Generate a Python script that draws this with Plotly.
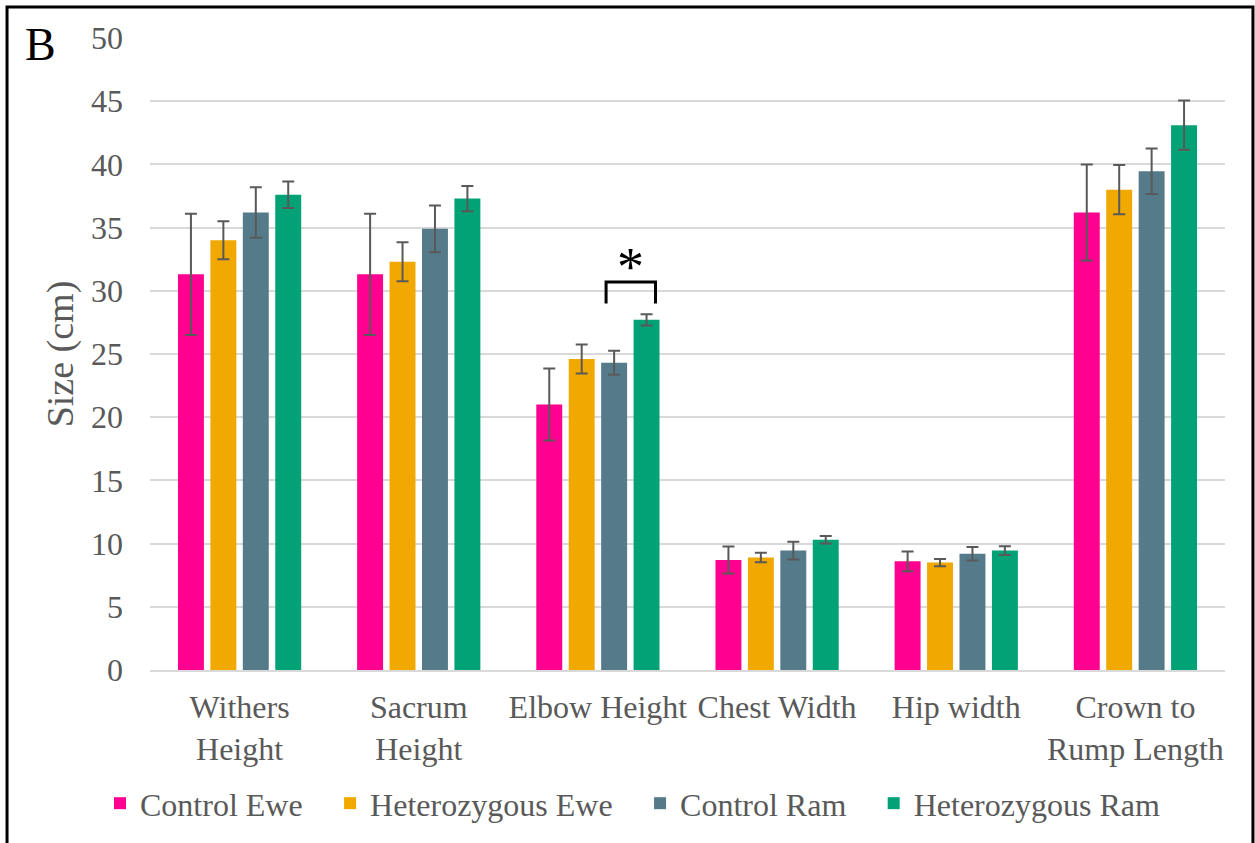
import plotly.graph_objects as go

# Body measurements (cm), mean and error per group
categories = ["Withers<br>Height", "Sacrum<br>Height", "Elbow Height",
              "Chest Width", "Hip width", "Crown to<br>Rump Length"]

control_ewe = [31.3, 31.3, 21.0, 8.7, 8.6, 36.2]
control_ewe_err = [4.8, 4.8, 2.85, 1.07, 0.78, 3.8]

het_ewe = [34.0, 32.3, 24.6, 8.9, 8.5, 38.0]
het_ewe_err = [1.5, 1.55, 1.15, 0.38, 0.29, 1.95]

control_ram = [36.2, 34.9, 24.3, 9.45, 9.2, 39.45]
control_ram_err = [2.0, 1.85, 0.95, 0.7, 0.54, 1.8]

het_ram = [37.6, 37.3, 27.7, 10.3, 9.45, 43.1]
het_ram_err = [1.05, 1.0, 0.45, 0.3, 0.35, 1.95]

# legend labels; non-breaking spaces widen the gap between entries
PAD = "\u00a0\u00a0\u2009"
series = [
    ("Control Ewe" + PAD, control_ewe, control_ewe_err, "#FF0090"),
    ("Heterozygous Ewe" + PAD, het_ewe, het_ewe_err, "#F1A800"),
    ("Control Ram" + PAD, control_ram, control_ram_err, "#557B8A"),
    ("Heterozygous Ram", het_ram, het_ram_err, "#00A276"),
]

FONT = "Liberation Serif"
GRAY = "#595959"

fig = go.Figure()
for name, vals, errs, color in series:
    fig.add_trace(go.Bar(
        name=name, x=categories, y=vals,
        marker=dict(color=color, line=dict(width=0)),
        error_y=dict(type="data", array=errs, color=GRAY,
                     thickness=2, width=6),
    ))

# Significance bracket between Control Ram and Heterozygous Ram (Elbow Height)
group_span = 1 - 0.276
slot = group_span / 4
bx0 = 2 + 0.5 * slot - 0.045
bx1 = 2 + 1.5 * slot + 0.05
shapes = [
    dict(type="path", xref="x", yref="y",
         path=f"M {bx0},29.0 L {bx0},30.7 L {bx1},30.7 L {bx1},29.0",
         line=dict(color="black", width=3)),
    # outer frame
    dict(type="rect", xref="paper", yref="paper",
         x0=-0.1330, x1=1.0260, y0=-0.30, y1=1.0491,
         line=dict(color="black", width=3)),
]

annotations = [
    dict(x=(bx0 + bx1) / 2, y=29.35, xref="x", yref="y", text="*",
         showarrow=False, yanchor="bottom",
         font=dict(family=FONT, size=54, color="black")),
    dict(x=-0.1014, y=0.989, xref="paper", yref="paper", text="B",
         showarrow=False, xanchor="center", yanchor="middle",
         font=dict(family=FONT, size=46, color="black")),
]

fig.update_layout(
    width=1255, height=843,
    margin=dict(l=150, r=30, t=38, b=173),
    paper_bgcolor="white", plot_bgcolor="white",
    barmode="group", bargap=0.276, bargroupgap=0.2,
    font=dict(family=FONT, size=32, color=GRAY),
    shapes=shapes, annotations=annotations,
    legend=dict(orientation="h", xref="container", yref="container",
                x=0.504, xanchor="center", y=0.047, yanchor="middle",
                font=dict(family=FONT, size=32, color=GRAY),
                itemwidth=30),
    showlegend=True,
)

fig.update_yaxes(
    range=[0, 50], tickvals=list(range(0, 51, 5)),
    showgrid=True, gridcolor="#D9D9D9", gridwidth=1.5,
    zeroline=False, showline=False, automargin=False,
    ticklabelstandoff=26,
    tickfont=dict(family=FONT, size=32, color=GRAY),
    title=dict(text="Size (cm)", standoff=5,
               font=dict(family=FONT, size=38, color=GRAY)),
)
fig.update_xaxes(
    showline=True, linecolor="#D9D9D9", linewidth=1.5,
    showgrid=False, ticklabelstandoff=8, automargin=False,
    tickfont=dict(family=FONT, size=32, color=GRAY),
)

fig.write_html("out.html")
